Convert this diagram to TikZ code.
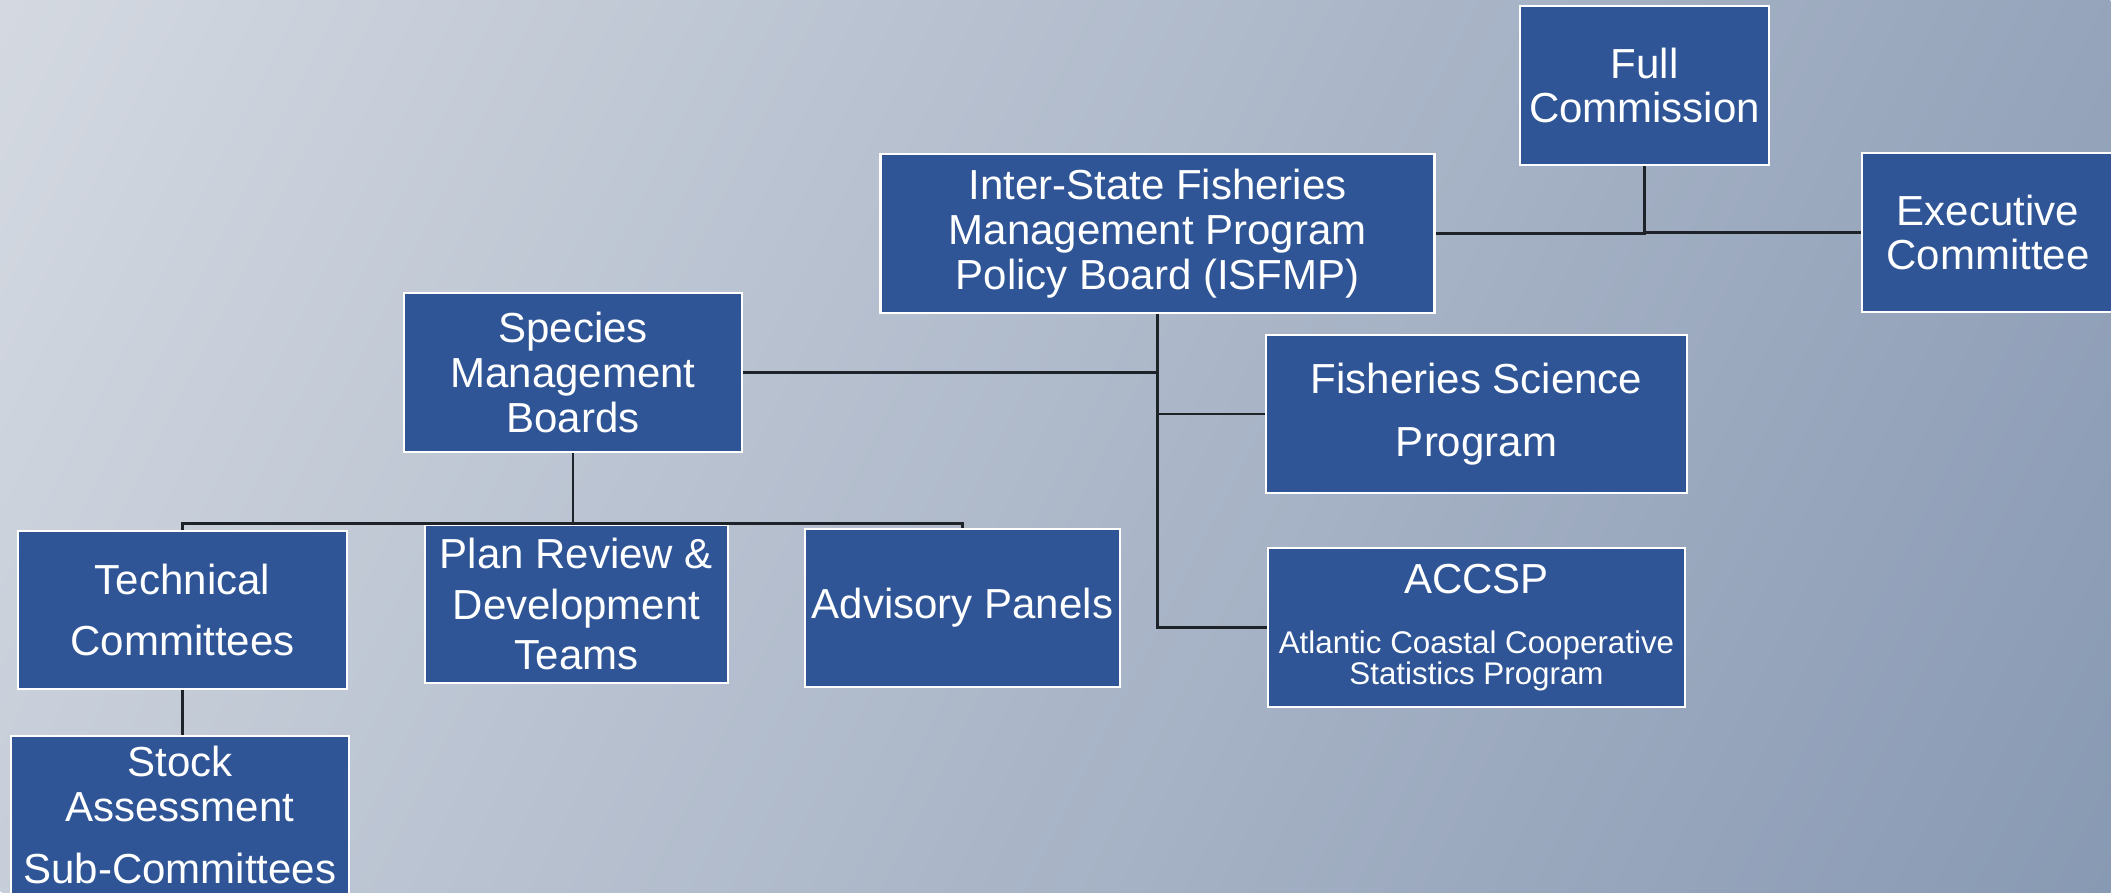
\documentclass[tikz,border=0pt]{standalone}
\usepackage{fontspec}
\setmainfont{Liberation Sans}
\definecolor{boxblue}{HTML}{2F5597}
\definecolor{bgA}{HTML}{D4D9E1}
\definecolor{bgB}{HTML}{8899B3}
\definecolor{lineclr}{HTML}{1E2229}
\begin{document}
\begin{tikzpicture}[x=0.75pt,y=-0.75pt,
  orgbox/.style={rectangle, draw=white, line width=1.7pt, fill=boxblue,
    text=white, align=center, inner sep=0pt,
    font=\fontsize{31.5}{33.5}\selectfont},
  sz/.style 2 args={minimum width=#1*0.75pt, minimum height=#2*0.75pt},
  conn/.style={draw=lineclr, line width=2.2pt}]
% background
\useasboundingbox (0,0) rectangle (2111,892);
\begin{scope}
  \clip (0,0) rectangle (2111,892);
  \begin{scope}[transform canvas={rotate around={-27:(1055.5,446)}}]
    \shade[left color=bgA, right color=bgB] (-87.5,-430) rectangle (2198.5,1322);
  \end{scope}
\end{scope}
% boxes
\node[orgbox, sz={249}{159}] (full) at (1644.5,85.5) {Full\\Commission};
\node[orgbox, sz={554}{159}] (isfmp) at (1157.6,233.5) {Inter-State Fisheries\\Management Program\\Policy Board (ISFMP)};
\node[orgbox, sz={252}{159}] (exec) at (1988,232.5) {Executive\\Committee};
\node[orgbox, sz={421}{158}] (fsp) at (1476.5,414) {Fisheries Science\\[13.75pt]Program};
\node[orgbox, sz={417}{159}] (accsp) at (1476.5,627.5) {ACCSP\\[11.5pt]{\fontsize{23.5}{24}\selectfont Atlantic Coastal Cooperative}\\[-10.25pt]{\fontsize{23.5}{24}\selectfont Statistics Program}};
\node[orgbox, sz={338}{159}] (species) at (573,372.5) {Species\\Management\\Boards};
\node[orgbox, sz={303}{158}] (plan) at (576.5,604) {Plan Review \&\\[4.25pt]Development\\[4.25pt]Teams};
\node[orgbox, sz={315}{158}] (advisory) at (962.5,608) {Advisory Panels};
\node[orgbox, sz={329}{158}] (tech) at (182.5,610) {Technical\\[12.25pt]Committees};
\node[orgbox, sz={338}{158}] (stock) at (180,815) {Stock\\Assessment\\[13pt]Sub-Committees};
% connectors
\draw[conn] (isfmp.east) -| (full.south);
\draw[conn] (full.south) |- (exec.west);
\draw[conn] (isfmp.south) |- (accsp.west);
\draw[conn] (isfmp.south) |- (fsp.west);
\draw[conn] (species.east) -- (species.east -| isfmp.south);
\draw[conn] (species.south) -- (species.south |- plan.north);
\draw[conn] (tech.north) |- (plan.north);
\draw[conn] (plan.north) -| (advisory.north);
\draw[conn] (tech.south) -- (tech.south |- stock.north);
\end{tikzpicture}
\end{document}
